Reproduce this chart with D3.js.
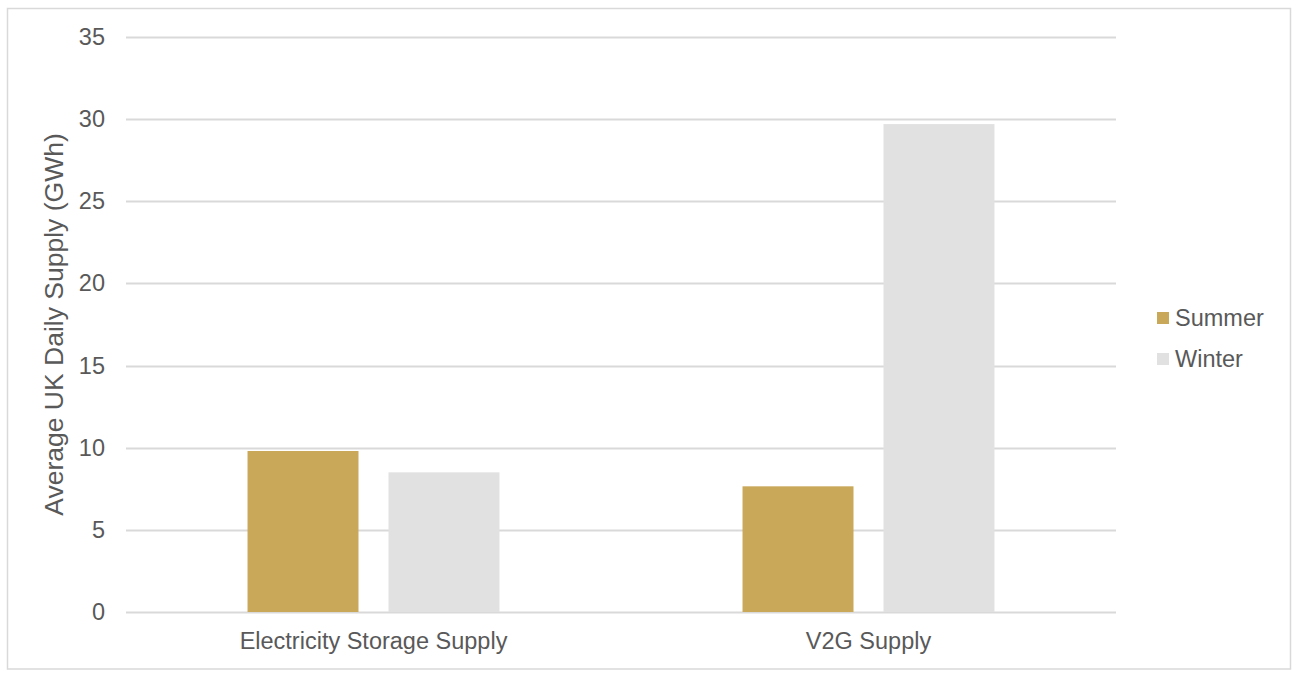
<!DOCTYPE html>
<html>
<head>
<meta charset="utf-8">
<script src="https://cdn.jsdelivr.net/npm/d3@7"></script>
<style>
  html, body { margin: 0; padding: 0; background: #fff; }
  svg { display: block; font-family: Arial, "Liberation Sans", sans-serif; }
</style>
</head>
<body>
<svg id="chart" width="1299" height="678"></svg>
<script>
const categories = ["Electricity Storage Supply", "V2G Supply"];
const seriesNames = ["Summer", "Winter"];
const summerValues = [9.8, 7.65];
const winterValues = [8.5, 29.7];
const yTicks = [0, 5, 10, 15, 20, 25, 30, 35];
const yTitle = "Average UK Daily Supply (GWh)";
const colors = { Summer: "#C9A85A", Winter: "#E1E1E1" };

const seriesValues = { Summer: summerValues, Winter: winterValues };
const svg = d3.select("#chart");
const plot = { left: 126, right: 1116, top: 37, bottom: 612 };
const textColor = "#595959";

// outer border
svg.append("rect").attr("x", 7.5).attr("y", 8.5).attr("width", 1283).attr("height", 660.5)
  .attr("fill", "#fff").attr("stroke", "#D9D9D9").attr("stroke-width", 1.5);

const x0 = d3.scaleBand().domain(categories).range([plot.left, plot.right])
  .paddingInner(0.491).paddingOuter(0.2455);
const x1 = d3.scaleBand().domain(seriesNames).range([0, x0.bandwidth()])
  .paddingInner(0.2128).paddingOuter(0);
const y = d3.scaleLinear().domain([0, 35]).range([plot.bottom, plot.top]);

// gridlines
svg.append("g").selectAll("line").data(yTicks).join("line")
  .attr("x1", plot.left).attr("x2", plot.right)
  .attr("y1", d => Math.round(y(d)) + 0.5).attr("y2", d => Math.round(y(d)) + 0.5)
  .attr("stroke", "#D9D9D9").attr("stroke-width", 2);

// y axis labels
const yAxis = d3.axisLeft(y).tickValues(yTicks).tickSize(0).tickPadding(21);
const gy = svg.append("g").attr("transform", `translate(${plot.left},0)`).call(yAxis);
gy.select(".domain").remove();
gy.selectAll("text").attr("fill", textColor).style("font-size", "23.5px")
  .style("font-family", 'Arial, "Liberation Sans", sans-serif');

// bars
const groups = svg.append("g").selectAll("g").data(categories).join("g")
  .attr("transform", d => `translate(${x0(d)},0)`);
groups.selectAll("rect").data((c, i) => seriesNames.map(s => ({ s, v: seriesValues[s][i] })))
  .join("rect")
  .attr("x", d => x1(d.s)).attr("width", x1.bandwidth())
  .attr("y", d => y(d.v)).attr("height", d => y(0) - y(d.v))
  .attr("fill", d => colors[d.s]);

// x axis labels
const xAxis = d3.axisBottom(x0).tickSize(0).tickPadding(20);
const gx = svg.append("g").attr("transform", `translate(0,${plot.bottom})`).call(xAxis);
gx.select(".domain").remove();
gx.selectAll("text").attr("fill", textColor).style("font-size", "23.5px")
  .style("font-family", 'Arial, "Liberation Sans", sans-serif');

// y title
svg.append("text")
  .attr("transform", `translate(63,${(plot.top + plot.bottom) / 2}) rotate(-90)`)
  .attr("text-anchor", "middle").attr("fill", textColor)
  .style("font-size", "26.5px").text(yTitle);

// legend
const legend = svg.append("g").selectAll("g").data(seriesNames).join("g")
  .attr("transform", (d, i) => `translate(1157,${318 + i * 41})`);
legend.append("rect").attr("x", 0).attr("y", -6).attr("width", 12).attr("height", 12)
  .attr("fill", d => colors[d]);
legend.append("text").attr("x", 18).attr("y", 0).attr("dy", "0.35em")
  .attr("fill", textColor).style("font-size", "23.5px").text(d => d);
</script>
</body>
</html>
